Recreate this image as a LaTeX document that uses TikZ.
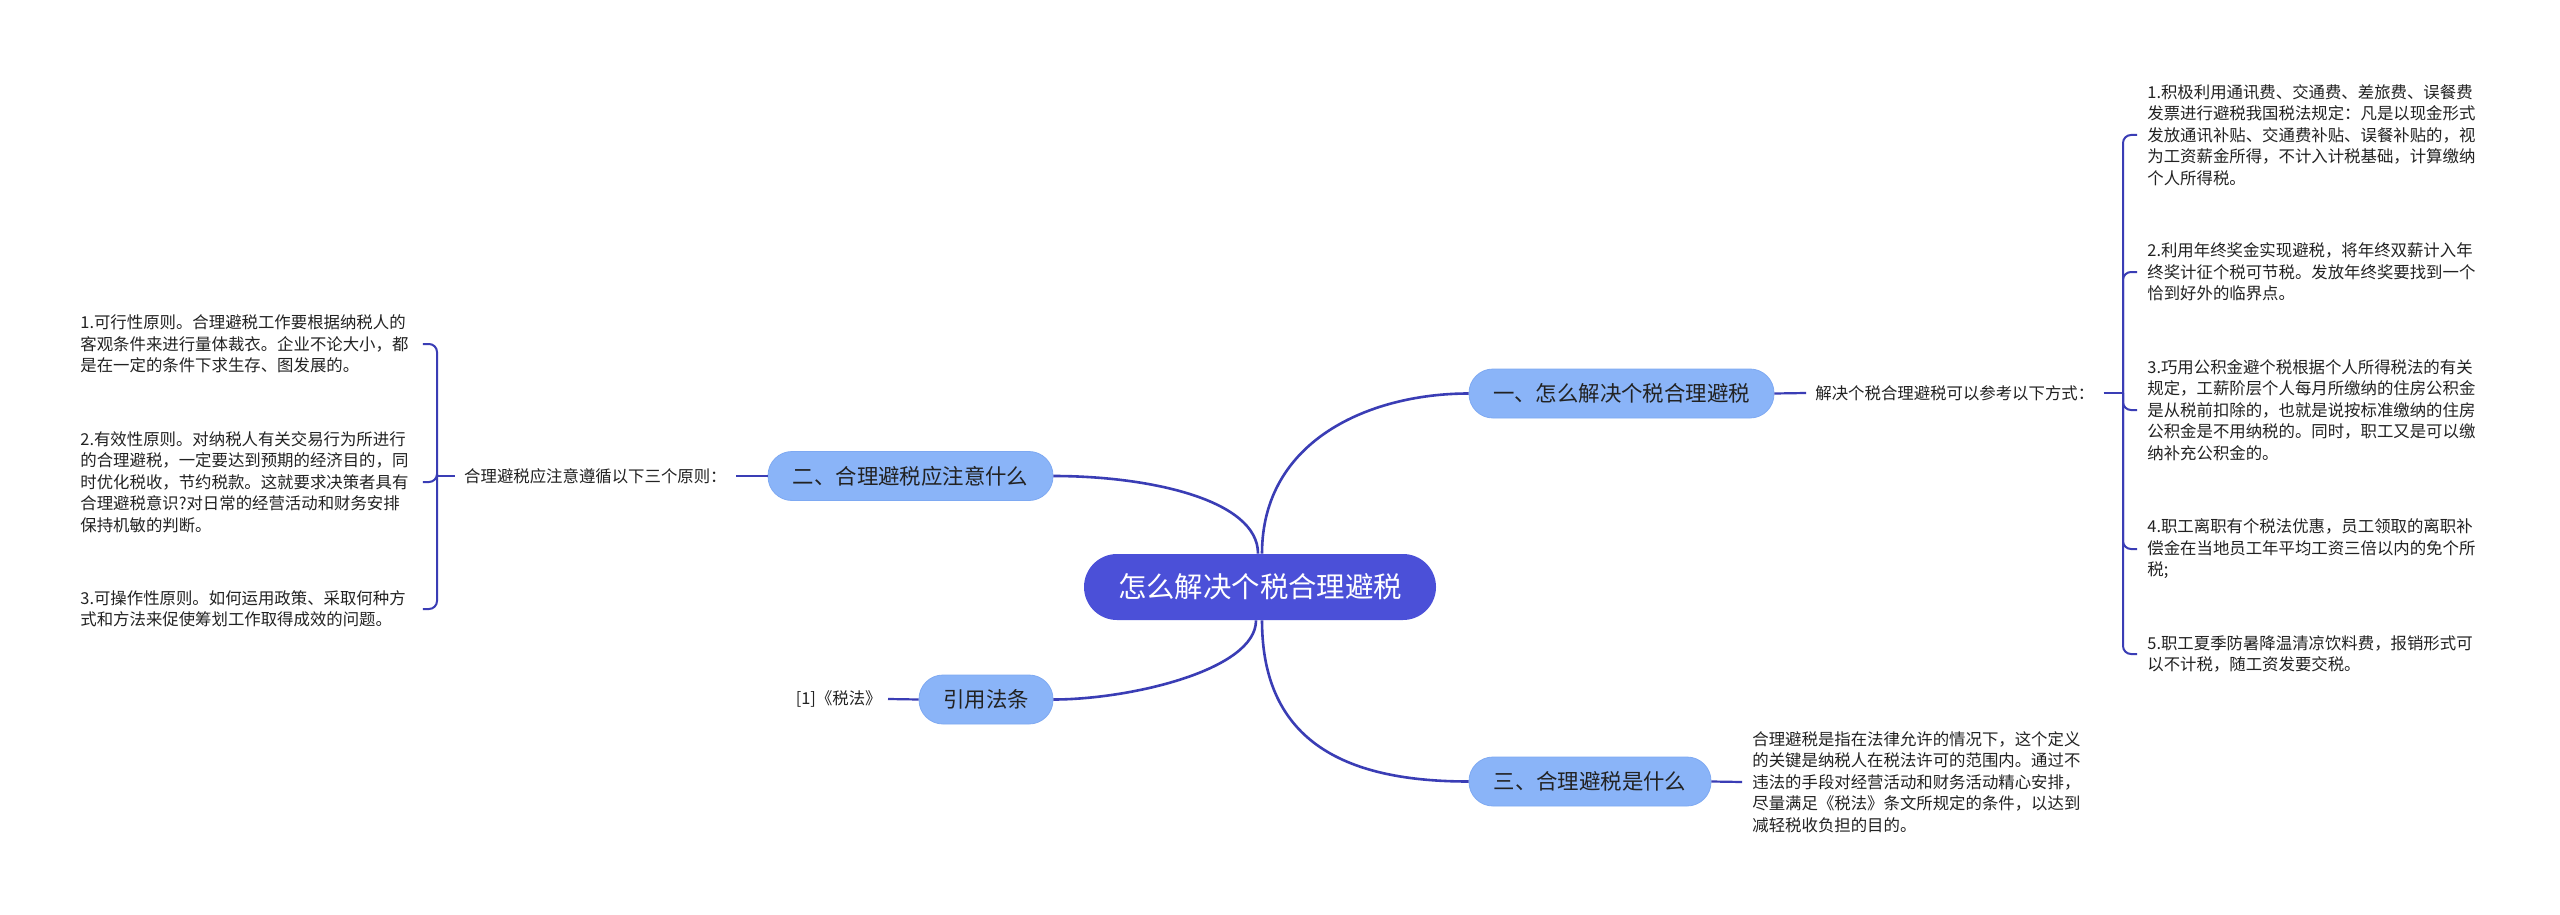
\documentclass[tikz,border=0pt]{standalone}
\usepackage{fontspec}
\setmainfont{Noto Sans CJK SC}
\definecolor{lc}{HTML}{3A3DB5}
\definecolor{mainc}{HTML}{4B50D8}
\definecolor{subc}{HTML}{8AB4F8}
\definecolor{subd}{HTML}{7EA9F2}
\definecolor{tc}{HTML}{222222}
\begin{document}
\begin{tikzpicture}[x=0.5pt,y=-0.5pt,
  conn/.style={draw=lc,line width=1.3pt},
  stub/.style={draw=lc,line width=1.1pt},
  brk/.style={draw=lc,line width=1pt,rounded corners=4pt},
  mainbox/.style={fill=mainc,rounded corners=16.5pt,minimum width=176pt,minimum height=33pt,inner sep=0pt,text=white,font=\fontsize{14.2}{17}\selectfont},
  subbox/.style={fill=subc,draw=subd,line width=0.4pt,rounded corners=12pt,minimum height=24.5pt,inner sep=0pt,text=tc,font=\fontsize{10.7}{13}\selectfont},
  lbl/.style={inner ysep=0pt,inner xsep=4.5pt,text=tc,font=\fontsize{8.2}{10.75}\selectfont},
  para/.style={align=left,inner ysep=0pt,inner xsep=5pt,text=tc,font=\fontsize{8.2}{10.75}\selectfont},
]
\useasboundingbox[fill=white] (0,0) rectangle (2560,915);

% central and branch nodes
\node[mainbox] (c) at (1260,587) {怎么解决个税合理避税};
\node[subbox,minimum width=152.5pt] (b1) at (1621.5,393.5) {一、怎么解决个税合理避税};
\node[subbox,minimum width=142.5pt] (b2) at (910.5,476) {二、合理避税应注意什么};
\node[subbox,minimum width=121pt] (b3) at (1590,781.5) {三、合理避税是什么};
\node[subbox,minimum width=67pt] (b4) at (986,699.5) {引用法条};

% labels
\node[lbl,anchor=west] (l1) at (1806,393) {解决个税合理避税可以参考以下方式：};
\node[lbl,anchor=east] (l2) at (736,476) {合理避税应注意遵循以下三个原则：};
\node[lbl,anchor=east,inner xsep=3pt] (cite) at (888,699) {[1]《税法》};

% right items
\node[para,anchor=west] (r1) at (2137,135) {1.积极利用通讯费、交通费、差旅费、误餐费\\发票进行避税我国税法规定：凡是以现金形式\\发放通讯补贴、交通费补贴、误餐补贴的，视\\为工资薪金所得，不计入计税基础，计算缴纳\\个人所得税。};
\node[para,anchor=west] (r2) at (2137,272) {2.利用年终奖金实现避税，将年终双薪计入年\\终奖计征个税可节税。发放年终奖要找到一个\\恰到好外的临界点。};
\node[para,anchor=west] (r3) at (2137,410) {3.巧用公积金避个税根据个人所得税法的有关\\规定，工薪阶层个人每月所缴纳的住房公积金\\是从税前扣除的，也就是说按标准缴纳的住房\\公积金是不用纳税的。同时，职工又是可以缴\\纳补充公积金的。};
\node[para,anchor=west] (r4) at (2137,549) {4.职工离职有个税法优惠，员工领取的离职补\\偿金在当地员工年平均工资三倍以内的免个所\\税;};
\node[para,anchor=west] (r5) at (2137,654) {5.职工夏季防暑降温清凉饮料费，报销形式可\\以不计税，随工资发要交税。};

% definition
\node[para,anchor=west] (def) at (1742,782) {合理避税是指在法律允许的情况下，这个定义\\的关键是纳税人在税法许可的范围内。通过不\\违法的手段对经营活动和财务活动精心安排，\\尽量满足《税法》条文所规定的条件，以达到\\减轻税收负担的目的。};

% left items
\node[para,anchor=west,text width=166pt] (li1) at (70,344) {1.可行性原则。合理避税工作要根据纳税人的\\客观条件来进行量体裁衣。企业不论大小，都\\是在一定的条件下求生存、图发展的。};
\node[para,anchor=west,text width=166pt] (li2) at (70,482) {2.有效性原则。对纳税人有关交易行为所进行\\的合理避税，一定要达到预期的经济目的，同\\时优化税收，节约税款。这就要求决策者具有\\合理避税意识?对日常的经营活动和财务安排\\保持机敏的判断。};
\node[para,anchor=west,text width=166pt] (li3) at (70,609) {3.可操作性原则。如何运用政策、采取何种方\\式和方法来促使筹划工作取得成效的问题。};

\coordinate (s1) at (2123,393);
\coordinate (s2) at (437,476);

% main curves
\draw[conn] ([xshift=1pt]c.north) .. controls (1262,440) and (1370,393.5) .. (b1.west);
\draw[conn] ([xshift=-1pt]c.north) .. controls (1258,500) and (1150,476) .. (b2.east);
\draw[conn] ([xshift=1pt]c.south) .. controls (1262,745) and (1350,781.5) .. (b3.west);
\draw[conn] ([xshift=-2pt]c.south) .. controls (1256,670) and (1130,699.5) .. (b4.east);

% stubs
\draw[stub] (b1.east) -- (l1.west);
\draw[stub] (l1.east) -- (s1);
\draw[stub] (b2.west) -- (l2.east);
\draw[stub] (l2.west) -- (s2);
\draw[stub] (b3.east) -- (def.west);
\draw[stub] (b4.west) -- (cite.east);

% brackets
\foreach \n in {r1,r2,r3,r4,r5} \draw[brk] (s1) |- (\n.west);
\foreach \n in {li1,li2,li3} \draw[brk] (s2) |- (\n.east);
\end{tikzpicture}
\end{document}
